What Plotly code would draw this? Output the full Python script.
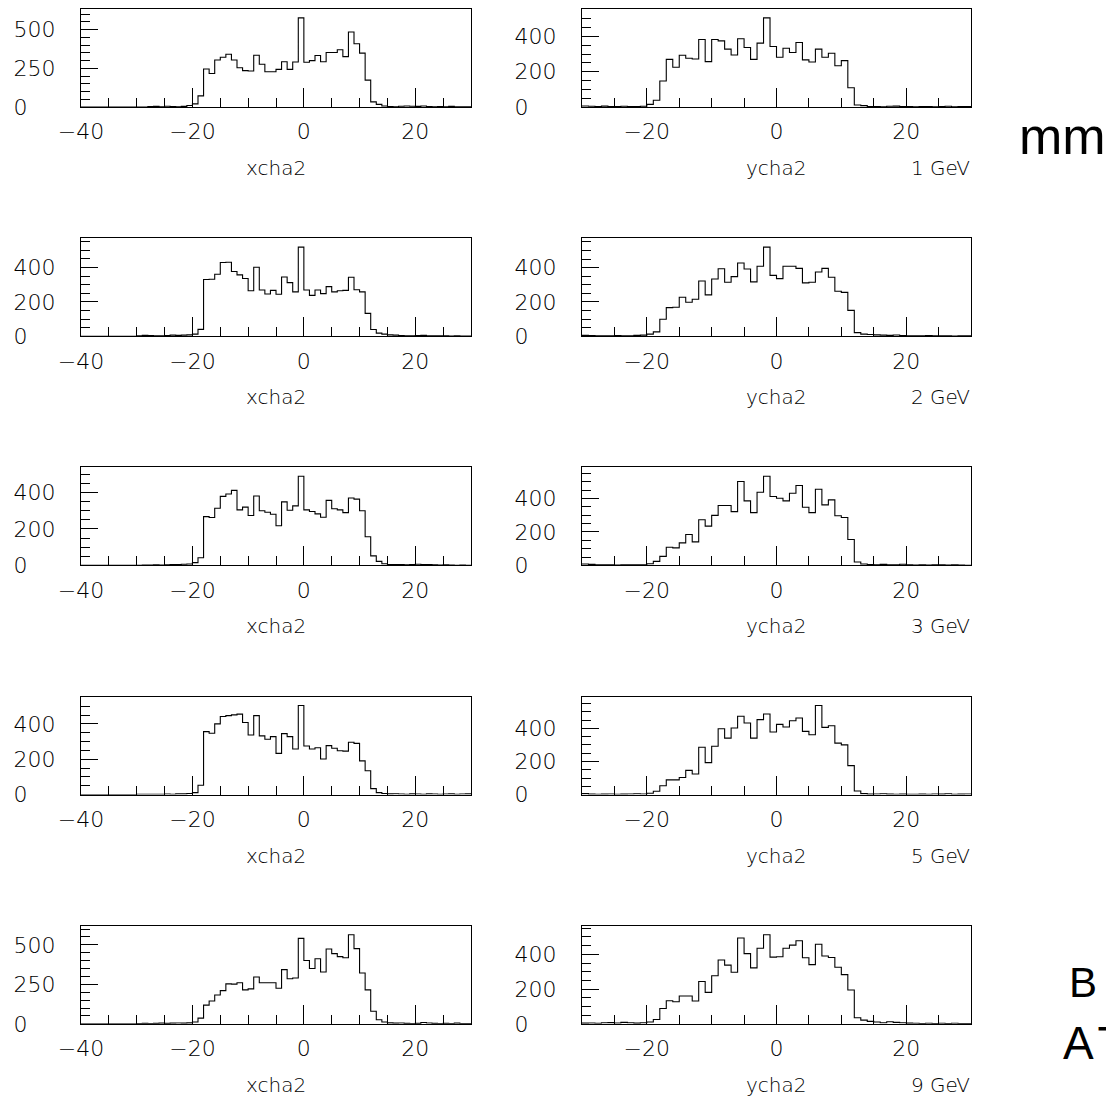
import plotly.graph_objects as go

# ---------------- data ----------------
# bin left edges (1 unit wide bins); last value is the right edge of the last bin
xcha2_edges = list(range(-40, 31))
ycha2_edges = list(range(-30, 31))

energies = ["1 GeV", "2 GeV", "3 GeV", "5 GeV", "9 GeV"]

# xcha2 counts, bins -40 ... 29
xcha2_1gev = [0, 0, 0, 0, 0, 0, 0, 0, 0, 0,
              0, 0, 3, 4, 2, 5, 3, 2, 4, 10,
              20, 72, 246, 217, 304, 322, 341, 304, 254, 235, 233, 335, 276, 228, 228, 243, 293, 243, 291, 576,
              289, 300, 333, 293, 352, 352, 370, 326, 485, 409, 348, 174,
              33, 17, 6, 3, 2, 5, 6, 5, 4, 6, 3, 2, 3, 2, 4, 2, 1, 1]
xcha2_2gev = [0, 0, 0, 0, 0, 0, 0, 0, 0, 0,
              3, 5, 4, 3, 2, 4, 6, 5, 6, 8,
              12, 40, 330, 332, 361, 429, 431, 377, 357, 336, 265, 402, 269, 246, 267, 244, 345, 312, 258, 519,
              269, 238, 269, 248, 289, 258, 265, 267, 343, 271, 258, 133,
              39, 18, 12, 8, 6, 4, 3, 2, 4, 5, 3, 2, 3, 2, 1, 2, 1, 1]
xcha2_3gev = [0, 0, 0, 0, 0, 0, 0, 0, 0, 0,
              1, 2, 2, 3, 2, 3, 4, 5, 6, 8,
              15, 42, 267, 262, 313, 378, 391, 411, 304, 319, 273, 380, 299, 291, 280, 217, 348, 302, 326, 488,
              304, 295, 282, 264, 356, 310, 304, 289, 369, 363, 299, 157,
              52, 22, 9, 5, 4, 5, 3, 4, 6, 5, 4, 3, 2, 3, 2, 1, 2, 1]
xcha2_5gev = [0, 0, 0, 0, 0, 0, 0, 0, 0, 0,
              2, 2, 2, 2, 2, 3, 2, 4, 4, 6,
              11, 53, 356, 347, 400, 442, 447, 451, 455, 408, 337, 447, 332, 313, 328, 233, 345, 328, 258, 504,
              275, 258, 265, 201, 277, 262, 248, 246, 296, 290, 191, 135,
              34, 11, 6, 4, 5, 3, 2, 4, 3, 2, 4, 3, 2, 3, 4, 2, 3, 4]
xcha2_9gev = [0, 0, 0, 0, 0, 0, 0, 0, 0, 0,
              2, 3, 2, 3, 4, 3, 4, 5, 4, 6,
              11, 36, 118, 144, 182, 210, 253, 251, 260, 215, 221, 296, 260, 260, 260, 225, 343, 285, 290, 541,
              401, 350, 412, 328, 474, 444, 425, 418, 564, 476, 322, 215,
              79, 26, 11, 6, 4, 5, 3, 2, 3, 8, 5, 3, 2, 3, 2, 4, 2, 1]

# ycha2 counts, bins -30 ... 29
ycha2_1gev = [6, 4, 3, 5, 3, 2, 4, 3, 2, 4,
              15, 38, 147, 270, 225, 293, 276, 272, 383, 257, 383, 375, 328, 295, 387, 337, 270, 362, 505, 343,
              282, 333, 309, 366, 267, 255, 328, 282, 305, 234, 263, 109, 11, 8,
              3, 2, 1, 4, 5, 3, 2, 1, 2, 3, 1, 2, 4, 1, 3, 2]
ycha2_2gev = [5, 4, 3, 2, 3, 4, 2, 3, 5, 6,
              12, 25, 99, 167, 169, 227, 198, 216, 322, 241, 334, 394, 315, 348, 427, 392, 317, 408, 520, 355,
              336, 408, 408, 396, 311, 315, 375, 396, 344, 262, 256, 151, 21, 12,
              10, 8, 6, 5, 7, 4, 3, 2, 3, 4, 2, 3, 2, 1, 2, 3]
ycha2_3gev = [8, 6, 4, 3, 3, 2, 4, 3, 4, 4,
              10, 24, 54, 109, 105, 135, 185, 141, 273, 235, 299, 358, 358, 322, 502, 386, 316, 438, 533, 412,
              402, 386, 432, 478, 348, 316, 456, 362, 392, 297, 287, 155, 20, 8,
              5, 4, 6, 3, 4, 7, 3, 2, 3, 2, 4, 3, 2, 3, 2, 1]
ycha2_5gev = [6, 3, 2, 3, 4, 2, 3, 4, 5, 4,
              8, 20, 53, 89, 89, 103, 146, 124, 286, 193, 292, 398, 341, 402, 473, 432, 341, 453, 487, 378,
              424, 408, 446, 463, 382, 361, 538, 406, 416, 311, 300, 175, 22, 6,
              3, 4, 5, 3, 2, 3, 2, 2, 3, 2, 4, 3, 5, 2, 3, 4]
ycha2_9gev = [4, 5, 3, 6, 7, 5, 8, 6, 4, 6,
              10, 25, 88, 133, 127, 160, 160, 131, 244, 181, 277, 367, 338, 297, 494, 404, 322, 435, 513, 384,
              386, 435, 453, 478, 380, 341, 458, 390, 382, 326, 283, 195, 35, 21,
              14, 10, 6, 12, 8, 6, 4, 3, 2, 3, 2, 3, 2, 3, 2, 1]

xcha2_all = [xcha2_1gev, xcha2_2gev, xcha2_3gev, xcha2_5gev, xcha2_9gev]
ycha2_all = [ycha2_1gev, ycha2_2gev, ycha2_3gev, ycha2_5gev, ycha2_9gev]

xcha2_ticks = [-40, -20, 0, 20]
xcha2_ticktext = ["\u221240", "\u221220", "0", "20"]
ycha2_ticks = [-20, 0, 20]
ycha2_ticktext = ["\u221220", "0", "20"]
ytick_250 = [0, 250, 500]
ytick_250_text = ["0\u2007\u2007", "250", "500"]
ytick_200 = [0, 200, 400]
ytick_200_text = ["0\u2007\u2007", "200", "400"]

side_texts = ["mm", "B", "A\u200aT"]

# ---------------- layout helpers ----------------
W, H = 1106, 1100
FONT = dict(family="DejaVu Sans", size=22, color="black", weight=200)
LFONT = dict(family="DejaVu Sans", size=20, color="black", weight=200)

col_px = [(81, 471), (582, 971)]
row_top0, row_step, row_h = 9, 229.2, 98


def ydom(r):
    top = row_top0 + row_step * r
    bot = top + row_h
    return [1 - bot / H, 1 - top / H], top, bot


fig = go.Figure()
layout = dict(width=W, height=H, autosize=False, showlegend=False,
              margin=dict(l=0, r=0, t=0, b=0, pad=0),
              paper_bgcolor="white", plot_bgcolor="white")
annotations = []

for r in range(5):
    yd, top, bot = ydom(r)
    for c in range(2):
        n = 2 * r + c + 1
        if c == 0:
            edges, vals = xcha2_edges, xcha2_all[r]
            xt, xtt = xcha2_ticks, xcha2_ticktext
            label = "xcha2"
        else:
            edges, vals = ycha2_edges, ycha2_all[r]
            xt, xtt = ycha2_ticks, ycha2_ticktext
            label = "ycha2"
        if c == 0 and r in (0, 4):
            yt, ytt = ytick_250, ytick_250_text
        else:
            yt, ytt = ytick_200, ytick_200_text

        fig.add_trace(go.Scatter(
            x=edges, y=vals + [vals[-1]], mode="lines",
            line=dict(shape="hv", color="black", width=1.1),
            xaxis=f"x{n}", yaxis=f"y{n}", hoverinfo="skip"))

        x0, x1 = col_px[c]
        layout[f"xaxis{n}"] = dict(
            domain=[x0 / W, x1 / W], anchor=f"y{n}", automargin=False,
            range=[edges[0], edges[-1]],
            showline=True, mirror=True, linecolor="black", linewidth=1,
            showgrid=False, zeroline=False,
            ticks="inside", ticklen=19, tickwidth=1, tickcolor="black",
            tickmode="array", tickvals=xt, ticktext=xtt,
            minor=dict(ticks="inside", ticklen=9, tickwidth=1, tickcolor="black",
                       tickmode="linear", tick0=0, dtick=5, showgrid=False),
            tickfont=FONT, ticklabelstandoff=5)
        layout[f"yaxis{n}"] = dict(
            domain=yd, anchor=f"x{n}", automargin=False,
            range=[0, 1.1 * max(vals)],
            showline=True, mirror=True, linecolor="black", linewidth=1,
            showgrid=False, zeroline=False,
            ticks="inside", ticklen=17, tickwidth=1, tickcolor="black",
            tickmode="array", tickvals=yt, ticktext=ytt,
            minor=dict(ticks="inside", ticklen=9, tickwidth=1, tickcolor="black",
                       tickmode="linear", tick0=0, dtick=50, showgrid=False),
            tickfont=FONT, ticklabelstandoff=20)

        annotations.append(dict(
            text=label, xref="paper", yref="paper",
            x=(x0 + x1) / 2 / W, y=1 - (bot + 61) / H,
            xanchor="center", yanchor="middle", showarrow=False, font=LFONT))
        if c == 1:
            annotations.append(dict(
                text=energies[r], xref="paper", yref="paper",
                x=(x1 + 1) / W, y=1 - (bot + 61) / H,
                xanchor="right", yanchor="middle", showarrow=False, font=LFONT))

BIG = dict(family="Liberation Sans", color="black")
annotations.append(dict(text=side_texts[0], xref="paper", yref="paper",
                        x=1017 / W, y=1 - 136 / H, xanchor="left", yanchor="middle",
                        showarrow=False, font=dict(BIG, size=52)))
annotations.append(dict(text=side_texts[1], xref="paper", yref="paper",
                        x=1067 / W, y=1 - 982 / H, xanchor="left", yanchor="middle",
                        showarrow=False, font=dict(BIG, size=42)))
annotations.append(dict(text=side_texts[2], xref="paper", yref="paper",
                        x=1061 / W, y=1 - 1043 / H, xanchor="left", yanchor="middle",
                        showarrow=False, font=dict(BIG, size=46)))

layout["annotations"] = annotations
fig.update_layout(**layout)
fig.write_html("out.html", config={"displayModeBar": False},
               post_script="document.body.style.margin='0px';")
